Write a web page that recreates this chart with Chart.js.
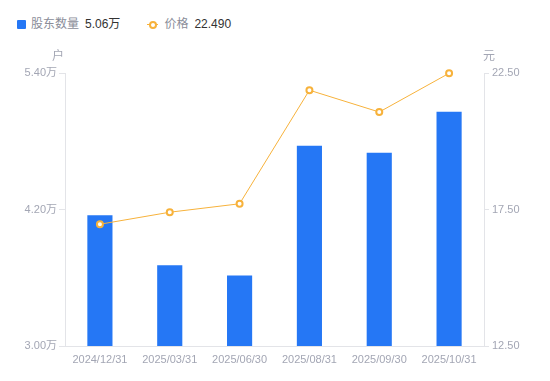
<!DOCTYPE html>
<html>
<head>
<meta charset="utf-8">
<script src="https://cdn.jsdelivr.net/npm/chart.js@4/dist/chart.umd.min.js"></script>
<style>
    body { margin: 0; background: #fff; font-family: 'Liberation Sans', 'Noto Sans CJK SC', sans-serif; }
    #wrap { position: relative; width: 550px; height: 381px; }
    #legend { position: absolute; left: 17px; top: 15px; display: flex; align-items: center; font-size: 12px; line-height: 18px; }
    .item { display: flex; align-items: center; margin-right: 27px; }
    .name { color: #8a8d99; margin-right: 6px; }
    .val { color: #333; }
    .sq { width: 9px; height: 9px; background: #2577f5; border-radius: 1px; margin-right: 5px; }
    .ln { position: relative; width: 11px; height: 9px; margin-right: 6px; }
    .ln:before { content: ''; position: absolute; left: 0; right: 0; top: 4px; height: 1px; background: #f7b23b; }
    .ln:after { content: ''; position: absolute; left: 2px; top: 1px; width: 4px; height: 4px; border: 2px solid #f7b23b; border-radius: 50%; background: #fff; }
    canvas { position: absolute; left: 0; top: 0; }
</style>
</head>
<body>
<div id="wrap">
    <div id="legend"></div>
    <canvas id="chart" width="550" height="381"></canvas>
</div>
<script>
// Data
const categories = ['2024/12/31', '2025/03/31', '2025/06/30', '2025/08/31', '2025/09/30', '2025/10/31'];
const holders = [4.15, 3.71, 3.62, 4.76, 4.70, 5.06];   // 股东数量 (万户)
const prices = [16.96, 17.40, 17.71, 21.87, 21.07, 22.49]; // 价格 (元)
const leftTicks = [3.00, 4.20, 5.40];
const rightTicks = [12.50, 17.50, 22.50];

const blue = '#2577f5';
const orange = '#f7b23b';
const gray = '#a3a6b4';
const axisColor = '#e3e4e8';
const font = "'Liberation Sans', 'Noto Sans CJK SC', sans-serif";

// Legend (HTML)
document.getElementById('legend').innerHTML =
    '<div class="item"><span class="sq"></span><span class="name">股东数量</span><span class="val">' +
    holders[holders.length - 1].toFixed(2) + '万</span></div>' +
    '<div class="item"><span class="ln"></span><span class="name">价格</span><span class="val">' +
    prices[prices.length - 1].toFixed(3) + '</span></div>';

// Axis unit titles
const unitTitles = {
    id: 'unitTitles',
    afterDraw(chart) {
        const c = chart.ctx;
        const y = chart.scales.y;
        const y1 = chart.scales.y1;
        c.save();
        c.font = '12px ' + font;
        c.fillStyle = gray;
        c.textAlign = 'center';
        c.textBaseline = 'middle';
        c.fillText('户', y.right - 7, y.top - 16);
        c.fillText('元', y1.left + 5, y1.top - 16);
        c.restore();
    }
};

new Chart(document.getElementById('chart'), {
    data: {
        labels: categories,
        datasets: [{
            type: 'line',
            label: '价格',
            data: prices,
            yAxisID: 'y1',
            borderColor: orange,
            borderWidth: 1,
            pointRadius: 3,
            pointBorderWidth: 2,
            pointBackgroundColor: '#fff',
            pointBorderColor: orange,
            tension: 0,
            clip: false,
            order: 0
        }, {
            type: 'bar',
            label: '股东数量',
            data: holders,
            yAxisID: 'y',
            backgroundColor: blue,
            categoryPercentage: 1,
            barPercentage: 0.36,
            order: 1
        }]
    },
    options: {
        responsive: false,
        animation: false,
        layout: { padding: { top: 73, left: 0, right: 0, bottom: 0 } },
        plugins: {
            legend: { display: false },
            tooltip: { enabled: false }
        },
        scales: {
            x: {
                grid: { display: false },
                border: { display: true, color: axisColor },
                ticks: { color: gray, font: { size: 11, family: font }, padding: -1, maxRotation: 0 },
                afterFit(scale) { scale.height = 35; }
            },
            y: {
                position: 'left',
                min: leftTicks[0],
                max: leftTicks[leftTicks.length - 1],
                afterBuildTicks(scale) { scale.ticks = leftTicks.map(v => ({ value: v })); },
                afterFit(scale) { scale.width = 65; },
                grid: { drawOnChartArea: false, color: axisColor, tickLength: 6 },
                border: { color: axisColor },
                ticks: {
                    color: gray, font: { size: 11, family: font }, padding: 2,
                    callback: v => v.toFixed(2) + '万'
                }
            },
            y1: {
                position: 'right',
                min: rightTicks[0],
                max: rightTicks[rightTicks.length - 1],
                afterBuildTicks(scale) { scale.ticks = rightTicks.map(v => ({ value: v })); },
                afterFit(scale) { scale.width = 66; },
                grid: { drawOnChartArea: false, color: axisColor, tickLength: 5 },
                border: { color: axisColor },
                ticks: {
                    color: gray, font: { size: 11, family: font }, padding: 3,
                    callback: v => v.toFixed(2)
                }
            }
        }
    },
    plugins: [unitTitles]
});
</script>
</body>
</html>
